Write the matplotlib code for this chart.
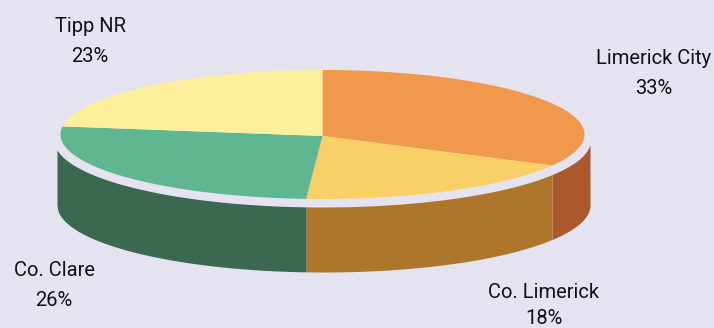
import numpy as np
import matplotlib
matplotlib.use("Agg")
import matplotlib.pyplot as plt

categories = ["Limerick City", "Co. Limerick", "Co. Clare", "Tipp NR"]
shares = [33, 18, 26, 23]
top_colors = ["#F0994C", "#F9D067", "#60B690", "#FEEF9B"]
wall_colors = ["#AB582C", "#AD762B", "#3B6850", None]
label_centres = [(654, 59, 88), (544, 293, 319), (54, 271, 301), (90, 27, 57)]
background = "#E5E3F0"

fig = plt.figure(figsize=(7.14, 3.28), dpi=100, facecolor=background)
ax = fig.add_axes([0, 0, 1, 1])
ax.set_xlim(0, 714)
ax.set_ylim(328, 0)
ax.axis("off")

# Top disc geometry, in pixels
rim_cx, rim_cy, rim_rx, rim_ry = 322.5, 134.5, 262, 64.5
apex_x, apex_y = 322.5, 136

# Slices run clockwise from twelve o'clock
edges = 90 - np.cumsum([0] + shares) * 3.6


def wall_top(x):
    return 140 + 67 * np.sqrt(np.clip(1 - ((x - 322.3) / 268.2) ** 2, 0, None))


def wall_bottom(x):
    return 205 + 67 * np.sqrt(np.clip(1 - ((x - 323.5) / 266.5) ** 2, 0, None))


# Side wall: each slice that reaches the front gets its own darker band
wall_left, wall_right = 57, 590
for i, colour in enumerate(wall_colors):
    if colour is None:
        continue
    x0 = rim_cx + rim_rx * np.cos(np.radians(edges[i + 1]))
    x1 = rim_cx + rim_rx * np.cos(np.radians(edges[i]))
    x0 = wall_left if edges[i + 1] < -180 else x0
    x1 = wall_right if edges[i] > 0 else x1
    xs = np.linspace(x0, x1, 300)
    ax.fill_between(xs, wall_top(xs), wall_bottom(xs), color=colour, lw=0)

# Top surface
for i, colour in enumerate(top_colors):
    t = np.radians(np.linspace(edges[i], edges[i + 1], 200))
    xs = np.r_[apex_x, rim_cx + rim_rx * np.cos(t)]
    ys = np.r_[apex_y, rim_cy - rim_ry * np.sin(t)]
    ax.fill(xs, ys, color=colour, lw=0)

# Two-line labels
for name, share, (cx, y_name, y_share) in zip(categories, shares, label_centres):
    for text, y in ((name, y_name), (f"{share}%", y_share)):
        ax.text(cx, y, text, ha="center", va="center", color="#111111",
                fontsize=14.5, family=["Roboto", "DejaVu Sans"])

fig.savefig("out.png", dpi=100, facecolor=background)
